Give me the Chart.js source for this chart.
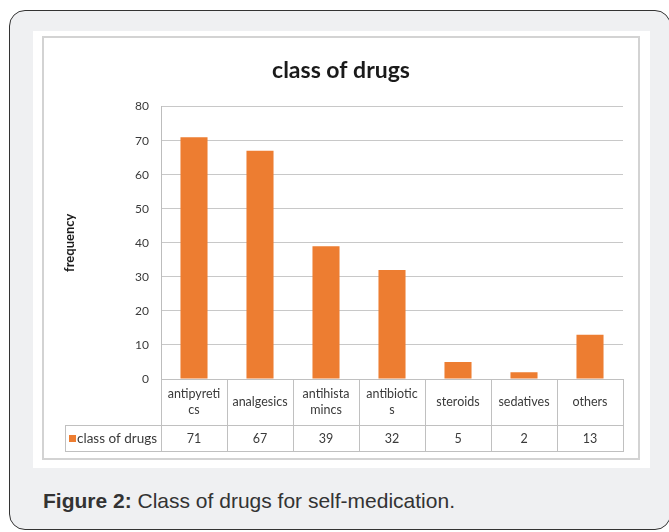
<!DOCTYPE html>
<html>
<head>
<meta charset="utf-8">
<script src="https://cdn.jsdelivr.net/npm/chart.js@4.4.1/dist/chart.umd.min.js"></script>
<style>
    html, body { margin: 0; padding: 0; background: #ffffff; }
    body { width: 669px; height: 532px; position: relative; overflow: hidden; }
    #marco {
        position: absolute; left: 9px; top: 10px; width: 662px; height: 520px;
        box-sizing: border-box; border: 1.5px solid #333; border-radius: 16px;
        background: #eff0f2;
    }
    #panel { position: absolute; left: 33px; top: 31px; width: 617px; height: 437px; background: #fff; }
    #borde {
        position: absolute; left: 42px; top: 36px; width: 598px; height: 424px;
        box-sizing: border-box; border: 2px solid #d3d3d3;
    }
    #lienzo { position: absolute; left: 44px; top: 38px; width: 594px; height: 420px; }
    #pie {
        position: absolute; left: 43px; top: 489px; margin: 0;
        font-family: 'Liberation Sans', Arial, sans-serif; font-size: 21px; color: #333;
    }
</style>
</head>
<body>
<div id="marco"></div>
<div id="panel"></div>
<div id="borde"></div>
<div id="lienzo"><canvas id="chartDrogas" width="594" height="420"></canvas></div>
<p id="pie"><b>Figure 2:</b> Class of drugs for self-medication.</p>

<script>
(function () {
    'use strict';

    // Datos
    const categorias = [['antipyreti', 'cs'], 'analgesics', ['antihista', 'mincs'], ['antibiotic', 's'], 'steroids', 'sedatives', 'others'];
    const frecuencias = [71, 67, 39, 32, 5, 2, 13];
    const nombreSerie = 'class of drugs';
    const ticksY = [0, 10, 20, 30, 40, 50, 60, 70, 80];

    const C = {
        orange: '#ed7d31',
        text: '#3a3a3a',
        grid: '#c8c8c8',
        table: '#c0c0c0',
    };
    const FONT = "Lato, 'Open Sans', sans-serif";

    // -------------------------------------------------------
    // Tabla de datos bajo el eje X (estilo Excel)
    // -------------------------------------------------------
    const tablaDatos = {
        id: 'tablaDatos',
        afterDraw(chart) {
            const ctx = chart.ctx;
            const x = chart.scales.x;
            const y = chart.scales.y;
            const left = chart.chartArea.left;
            const right = chart.chartArea.right;
            const top = y.getPixelForValue(0);
            const bot = x.bottom;
            const mid = top + 46;
            const ancho = (right - left) / categorias.length;
            const leyendaX = 21;

            ctx.save();
            ctx.strokeStyle = C.table;
            ctx.lineWidth = 1;
            ctx.beginPath();
            ctx.moveTo(left, top + 0.5); ctx.lineTo(right, top + 0.5);
            ctx.moveTo(leyendaX, mid + 0.5); ctx.lineTo(right, mid + 0.5);
            ctx.moveTo(leyendaX, bot + 0.5); ctx.lineTo(right, bot + 0.5);
            for (let k = 0; k <= categorias.length; k++) {
                const px = Math.round(left + k * ancho) + 0.5;
                ctx.moveTo(px, top); ctx.lineTo(px, bot + 1);
            }
            ctx.moveTo(leyendaX + 0.5, mid); ctx.lineTo(leyendaX + 0.5, bot + 1);
            ctx.stroke();

            ctx.fillStyle = C.text;
            ctx.font = '12.5px ' + FONT;
            ctx.textAlign = 'center';
            ctx.textBaseline = 'middle';
            categorias.forEach((cat, i) => {
                const cx = x.getPixelForValue(i);
                const lineas = Array.isArray(cat) ? cat : [cat];
                const alto = 16;
                const y0 = (top + mid) / 2 - (lineas.length - 1) * alto / 2;
                lineas.forEach((l, j) => ctx.fillText(l, cx, y0 + j * alto));
                ctx.fillText(String(frecuencias[i]), cx, (mid + bot) / 2 + 1);
            });

            // celda de leyenda
            ctx.fillStyle = C.orange;
            ctx.fillRect(leyendaX + 4, (mid + bot) / 2 - 3, 7, 7);
            ctx.fillStyle = C.text;
            ctx.textAlign = 'left';
            ctx.font = '13.5px ' + FONT;
            ctx.fillText(nombreSerie, leyendaX + 12, (mid + bot) / 2 + 1);
            ctx.restore();
        }
    };

    Chart.defaults.font.family = FONT;
    Chart.defaults.color = C.text;

    new Chart(document.getElementById('chartDrogas'), {
        type: 'bar',
        data: {
            labels: categorias,
            datasets: [{
                label: nombreSerie,
                data: frecuencias,
                backgroundColor: C.orange,
                categoryPercentage: 1,
                barPercentage: 0.41,
            }]
        },
        options: {
            responsive: false,
            animation: false,
            layout: { padding: { left: 15, right: 15, top: 0, bottom: 7 } },
            plugins: {
                legend: { display: false },
                tooltip: { enabled: false },
                title: {
                    display: true,
                    text: 'class of drugs',
                    color: '#1a1a1a',
                    font: { size: 23, weight: 'bold', lineHeight: 1.2 },
                    padding: { top: 19, bottom: 22 }
                }
            },
            scales: {
                x: {
                    grid: { display: false },
                    border: { display: false },
                    ticks: { display: false },
                    afterFit: s => { s.height = 72; }
                },
                y: {
                    min: 0,
                    max: 80,
                    afterBuildTicks: s => { s.ticks = ticksY.map(v => ({ value: v })); },
                    afterFit: s => { s.width = 102; },
                    grid: { color: C.grid, drawTicks: false },
                    border: { display: true, color: '#bdbdbd' },
                    ticks: { padding: 12, font: { size: 12 }, color: '#3a3a3a' },
                    title: {
                        display: true,
                        text: 'frequency',
                        color: '#1a1a1a',
                        font: { size: 13, weight: 'bold', lineHeight: 1.2 },
                        padding: { top: 3, bottom: 0 }
                    }
                }
            }
        },
        plugins: [tablaDatos]
    });
})();
</script>
</body>
</html>
